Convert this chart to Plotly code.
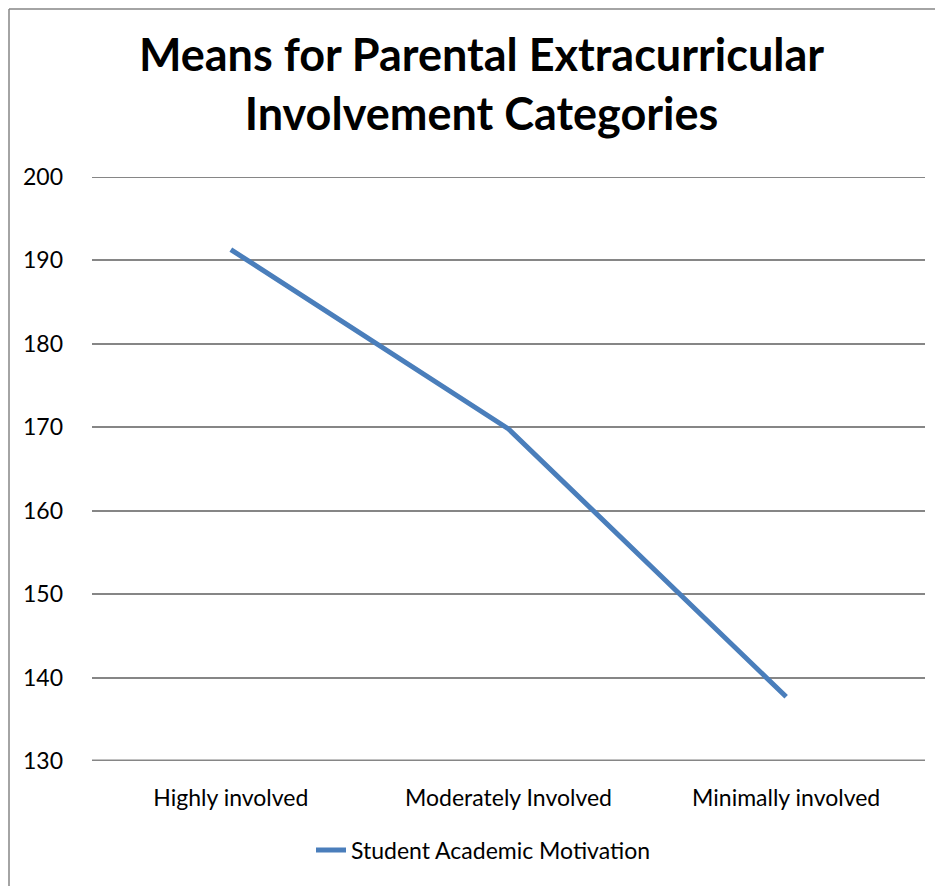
import plotly.graph_objects as go

categories = ["Highly involved", "Moderately Involved", "Minimally involved"]
motivation = [191.3, 169.8, 137.7]
series_name = "Student Academic Motivation"
y_ticks = [130, 140, 150, 160, 170, 180, 190, 200]

FONT = "Lato, Open Sans, sans-serif"

fig = go.Figure()
fig.add_trace(go.Scatter(
    x=categories, y=motivation, mode="lines", name=series_name,
    line=dict(color="#4a7ebb", width=5),
))

# page body adds an 8px offset; figure is drawn in figure coordinates
W, H = 935, 878
L, R, T, B = 84, 18, 169, 125
pw, ph = W - L - R, H - T - B

GRID = "#868686"
FS = 23

fig.update_layout(
    width=W, height=H,
    margin=dict(l=L, r=R, t=T, b=B),
    paper_bgcolor="white", plot_bgcolor="white",
    font=dict(family=FONT, size=FS, color="black"),
    title=dict(
        text="<b>Means for Parental Extracurricular<br>Involvement Categories</b>",
        font=dict(family=FONT, size=45, color="black"),
        x=473.5 / W, xanchor="center", xref="container",
        y=1 - 63 / H, yanchor="top", yref="container",
    ),
    showlegend=True,
    legend=dict(
        orientation="h", x=(303 - L) / pw, xanchor="left",
        y=(H - B - 842) / ph, yanchor="middle",
        font=dict(family=FONT, size=FS),
    ),
    xaxis=dict(
        type="category", showgrid=False, showline=False, ticks="",
        tickfont=dict(family=FONT, size=FS), range=[-0.5, 2.5],
        ticklabelstandoff=21,
    ),
    yaxis=dict(
        range=[130, 200], tickvals=y_ticks, showgrid=True,
        gridcolor=GRID, gridwidth=1.8, zeroline=False,
        showline=False, ticks="", ticklabelstandoff=28,
        tickfont=dict(family=FONT, size=FS),
    ),
    shapes=[
        dict(type="line", xref="paper", yref="paper",
             x0=(1 - L) / pw, x1=(1 - L) / pw, y0=(H - B - 900) / ph, y1=1 + (T - 1) / ph,
             line=dict(color=GRID, width=1.5)),
        dict(type="line", xref="paper", yref="paper",
             x0=(1 - L) / pw, x1=1 + (R + 10) / pw, y0=1 + (T - 1) / ph, y1=1 + (T - 1) / ph,
             line=dict(color=GRID, width=1.5)),
        dict(type="line", xref="paper", yref="y",
             x0=0, x1=1, y0=200, y1=200,
             line=dict(color=GRID, width=1.8)),
        dict(type="line", xref="paper", yref="y",
             x0=0, x1=1, y0=130, y1=130,
             line=dict(color=GRID, width=3)),
    ],
)

fig.write_html("out.html")
